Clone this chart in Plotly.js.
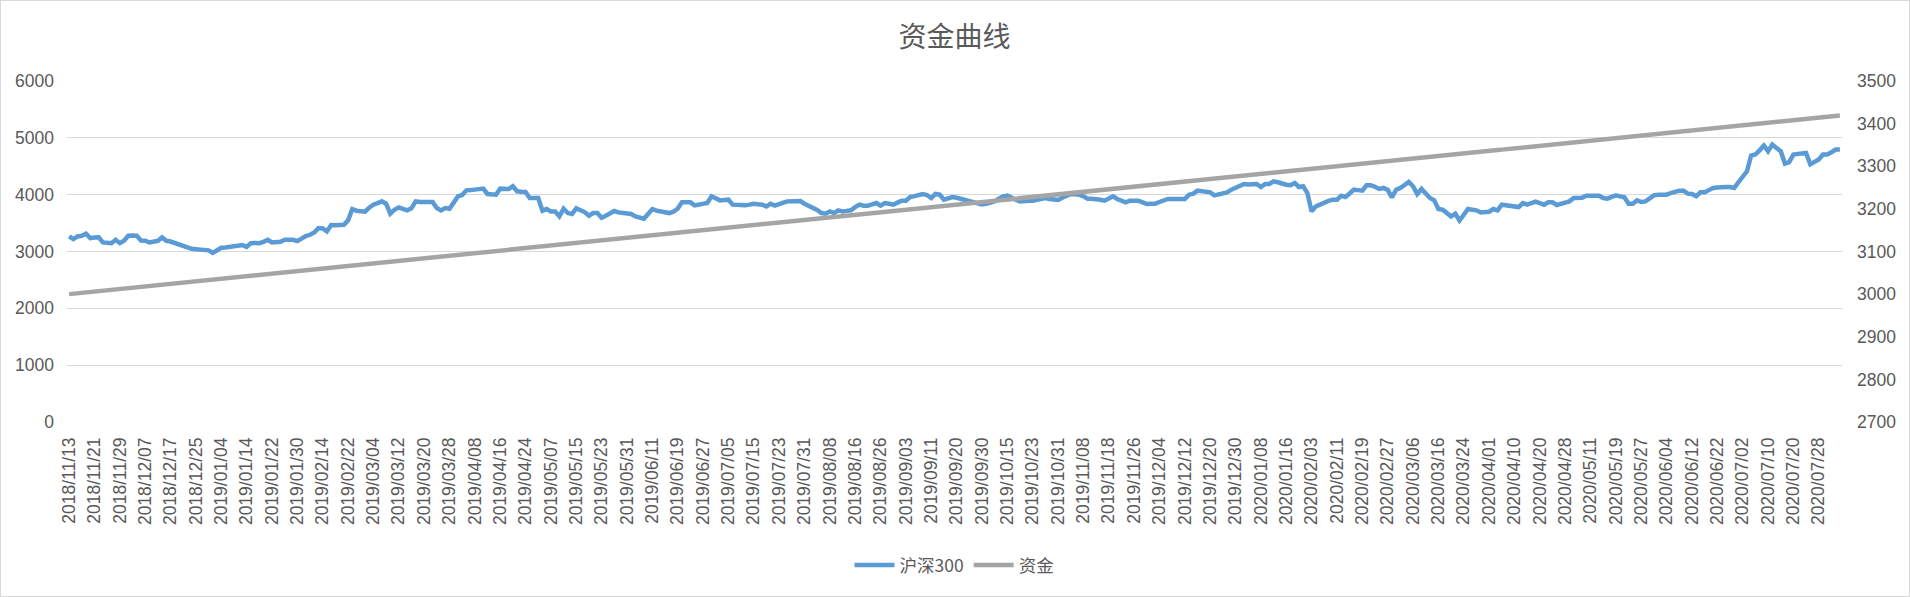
<!DOCTYPE html>
<html>
<head>
<meta charset="utf-8">
<script src="https://cdn.plot.ly/plotly-3.0.1.min.js"></script>
<style>
html,body{margin:0;padding:0;background:#fff;}
#wrap{width:1910px;height:597px;box-sizing:border-box;border:1px solid #d9d9d9;}
#chart{width:1908px;height:595px;}
</style>
</head>
<body>
<div id="wrap"><div id="chart"></div></div>
<script>
// Trading-day categories
const dates = [
"2018/11/13","2018/11/14","2018/11/15","2018/11/16","2018/11/19","2018/11/20","2018/11/21","2018/11/22","2018/11/23","2018/11/26","2018/11/27","2018/11/28","2018/11/29","2018/11/30",
"2018/12/03","2018/12/04","2018/12/05","2018/12/06","2018/12/07","2018/12/10","2018/12/11","2018/12/12","2018/12/13","2018/12/14","2018/12/17","2018/12/18","2018/12/19","2018/12/20","2018/12/21","2018/12/24","2018/12/25","2018/12/26","2018/12/27","2018/12/28",
"2019/01/02","2019/01/03","2019/01/04","2019/01/07","2019/01/08","2019/01/09","2019/01/10","2019/01/11","2019/01/14","2019/01/15","2019/01/16","2019/01/17","2019/01/18","2019/01/21","2019/01/22","2019/01/23","2019/01/24","2019/01/25","2019/01/28","2019/01/29","2019/01/30","2019/01/31",
"2019/02/01","2019/02/11","2019/02/12","2019/02/13","2019/02/14","2019/02/15","2019/02/18","2019/02/19","2019/02/20","2019/02/21","2019/02/22","2019/02/25","2019/02/26","2019/02/27","2019/02/28",
"2019/03/01","2019/03/04","2019/03/05","2019/03/06","2019/03/07","2019/03/08","2019/03/11","2019/03/12","2019/03/13","2019/03/14","2019/03/15","2019/03/18","2019/03/19","2019/03/20","2019/03/21","2019/03/22","2019/03/25","2019/03/26","2019/03/27","2019/03/28","2019/03/29",
"2019/04/01","2019/04/02","2019/04/03","2019/04/04","2019/04/08","2019/04/09","2019/04/10","2019/04/11","2019/04/12","2019/04/15","2019/04/16","2019/04/17","2019/04/18","2019/04/19","2019/04/22","2019/04/23","2019/04/24","2019/04/25","2019/04/26","2019/04/29","2019/04/30",
"2019/05/06","2019/05/07","2019/05/08","2019/05/09","2019/05/10","2019/05/13","2019/05/14","2019/05/15","2019/05/16","2019/05/17","2019/05/20","2019/05/21","2019/05/22","2019/05/23","2019/05/24","2019/05/27","2019/05/28","2019/05/29","2019/05/30","2019/05/31",
"2019/06/03","2019/06/04","2019/06/05","2019/06/06","2019/06/10","2019/06/11","2019/06/12","2019/06/13","2019/06/14","2019/06/17","2019/06/18","2019/06/19","2019/06/20","2019/06/21","2019/06/24","2019/06/25","2019/06/26","2019/06/27","2019/06/28",
"2019/07/01","2019/07/02","2019/07/03","2019/07/04","2019/07/05","2019/07/08","2019/07/09","2019/07/10","2019/07/11","2019/07/12","2019/07/15","2019/07/16","2019/07/17","2019/07/18","2019/07/19","2019/07/22","2019/07/23","2019/07/24","2019/07/25","2019/07/26","2019/07/29","2019/07/30","2019/07/31",
"2019/08/01","2019/08/02","2019/08/05","2019/08/06","2019/08/07","2019/08/08","2019/08/09","2019/08/12","2019/08/13","2019/08/14","2019/08/15","2019/08/16","2019/08/19","2019/08/20","2019/08/21","2019/08/22","2019/08/23","2019/08/26","2019/08/27","2019/08/28","2019/08/29","2019/08/30",
"2019/09/02","2019/09/03","2019/09/04","2019/09/05","2019/09/06","2019/09/09","2019/09/10","2019/09/11","2019/09/12","2019/09/16","2019/09/17","2019/09/18","2019/09/19","2019/09/20","2019/09/23","2019/09/24","2019/09/25","2019/09/26","2019/09/27","2019/09/30",
"2019/10/08","2019/10/09","2019/10/10","2019/10/11","2019/10/14","2019/10/15","2019/10/16","2019/10/17","2019/10/18","2019/10/21","2019/10/22","2019/10/23","2019/10/24","2019/10/25","2019/10/28","2019/10/29","2019/10/30","2019/10/31",
"2019/11/01","2019/11/04","2019/11/05","2019/11/06","2019/11/07","2019/11/08","2019/11/11","2019/11/12","2019/11/13","2019/11/14","2019/11/15","2019/11/18","2019/11/19","2019/11/20","2019/11/21","2019/11/22","2019/11/25","2019/11/26","2019/11/27","2019/11/28","2019/11/29",
"2019/12/02","2019/12/03","2019/12/04","2019/12/05","2019/12/06","2019/12/09","2019/12/10","2019/12/11","2019/12/12","2019/12/13","2019/12/16","2019/12/17","2019/12/18","2019/12/19","2019/12/20","2019/12/23","2019/12/24","2019/12/25","2019/12/26","2019/12/27","2019/12/30","2019/12/31",
"2020/01/02","2020/01/03","2020/01/06","2020/01/07","2020/01/08","2020/01/09","2020/01/10","2020/01/13","2020/01/14","2020/01/15","2020/01/16","2020/01/17","2020/01/20","2020/01/21","2020/01/22","2020/01/23",
"2020/02/03","2020/02/04","2020/02/05","2020/02/06","2020/02/07","2020/02/10","2020/02/11","2020/02/12","2020/02/13","2020/02/14","2020/02/17","2020/02/18","2020/02/19","2020/02/20","2020/02/21","2020/02/24","2020/02/25","2020/02/26","2020/02/27","2020/02/28",
"2020/03/02","2020/03/03","2020/03/04","2020/03/05","2020/03/06","2020/03/09","2020/03/10","2020/03/11","2020/03/12","2020/03/13","2020/03/16","2020/03/17","2020/03/18","2020/03/19","2020/03/20","2020/03/23","2020/03/24","2020/03/25","2020/03/26","2020/03/27","2020/03/30","2020/03/31",
"2020/04/01","2020/04/02","2020/04/03","2020/04/07","2020/04/08","2020/04/09","2020/04/10","2020/04/13","2020/04/14","2020/04/15","2020/04/16","2020/04/17","2020/04/20","2020/04/21","2020/04/22","2020/04/23","2020/04/24","2020/04/27","2020/04/28","2020/04/29","2020/04/30",
"2020/05/06","2020/05/07","2020/05/08","2020/05/11","2020/05/12","2020/05/13","2020/05/14","2020/05/15","2020/05/18","2020/05/19","2020/05/20","2020/05/21","2020/05/22","2020/05/25","2020/05/26","2020/05/27","2020/05/28","2020/05/29",
"2020/06/01","2020/06/02","2020/06/03","2020/06/04","2020/06/05","2020/06/08","2020/06/09","2020/06/10","2020/06/11","2020/06/12","2020/06/15","2020/06/16","2020/06/17","2020/06/18","2020/06/19","2020/06/22","2020/06/23","2020/06/24","2020/06/29","2020/06/30",
"2020/07/01","2020/07/02","2020/07/03","2020/07/06","2020/07/07","2020/07/08","2020/07/09","2020/07/10","2020/07/13","2020/07/14","2020/07/15","2020/07/16","2020/07/17","2020/07/20","2020/07/21","2020/07/22","2020/07/23","2020/07/24","2020/07/27","2020/07/28","2020/07/29","2020/07/30","2020/07/31",
"2020/08/03","2020/08/04"
];

// Tick labels shown on the category axis
const tickLabels = [
"2018/11/13","2018/11/21","2018/11/29","2018/12/07","2018/12/17","2018/12/25","2019/01/04","2019/01/14","2019/01/22","2019/01/30",
"2019/02/14","2019/02/22","2019/03/04","2019/03/12","2019/03/20","2019/03/28","2019/04/08","2019/04/16","2019/04/24","2019/05/07",
"2019/05/15","2019/05/23","2019/05/31","2019/06/11","2019/06/19","2019/06/27","2019/07/05","2019/07/15","2019/07/23","2019/07/31",
"2019/08/08","2019/08/16","2019/08/26","2019/09/03","2019/09/11","2019/09/20","2019/09/30","2019/10/15","2019/10/23","2019/10/31",
"2019/11/08","2019/11/18","2019/11/26","2019/12/04","2019/12/12","2019/12/20","2019/12/30","2020/01/08","2020/01/16","2020/02/03",
"2020/02/11","2020/02/19","2020/02/27","2020/03/06","2020/03/16","2020/03/24","2020/04/01","2020/04/10","2020/04/20","2020/04/28",
"2020/05/11","2020/05/19","2020/05/27","2020/06/04","2020/06/12","2020/06/22","2020/07/02","2020/07/10","2020/07/20","2020/07/28"
];

// 沪深300 (left axis)
const hs300 = [
3265,3218,3265,3276,3312,3235,
3247,3250,3160,3150,3147,3206,
3147,3188,3276,3280,3276,3194,
3190,3159,3165,3188,3247,3188,
3176,3150,3112,3085,3059,3047,
3040,3035,3018,3020,2975,3010,
3065,3070,3076,3100,3095,3112,
3082,3147,3150,3147,3170,3206,
3159,3165,3171,3206,3205,3206,
3182,3235,3270,3294,3335,3412,
3406,3353,3465,3462,3465,3471,
3547,3747,3718,3710,3700,3771,
3824,3850,3882,3841,3665,3735,
3776,3750,3724,3759,3882,3871,
3870,3865,3871,3765,3724,3765,
3753,3860,3971,3994,4076,4080,
4088,4095,4106,4012,4005,4000,
4106,4100,4100,4147,4059,4050,
4047,3941,3945,3941,3718,3747,
3706,3706,3618,3753,3676,3659,
3759,3730,3694,3629,3676,3676,
3594,3629,3670,3712,3688,3675,
3665,3659,3618,3600,3576,3660,
3747,3718,3700,3676,3676,3700,
3753,3865,3866,3865,3812,3830,
3841,3853,3971,3941,3900,3905,
3912,3824,3818,3812,3812,3825,
3841,3830,3824,3794,3841,3806,
3841,3860,3882,3885,3888,3888,
3841,3810,3782,3730,3676,3665,
3706,3676,3724,3706,3715,3724,
3780,3824,3806,3806,3830,3853,
3806,3853,3840,3824,3860,3894,
3894,3959,3975,3990,4012,3994,
3941,4012,4000,3912,3941,3959,
3945,3929,3912,3890,3865,3845,
3829,3840,3853,3882,3930,3971,
3982,3941,3910,3882,3894,3894,
3894,3905,3912,3941,3925,3906,
3906,3945,3982,4012,4005,4000,
3970,3929,3930,3929,3910,3894,
3935,3971,3924,3890,3865,3894,
3894,3894,3865,3835,3838,3841,
3871,3900,3924,3924,3924,3924,
3924,4000,4018,4071,4065,4059,
4041,3988,4010,4029,4041,4088,
4118,4150,4188,4180,4176,4188,
4135,4188,4188,4235,4218,4188,
4175,4165,4206,4135,4147,4029,
3706,3794,3830,3865,3890,3912,
3912,3982,3959,4020,4088,4080,
4071,4165,4165,4140,4100,4118,
4085,3953,4088,4118,4170,4224,
4147,4012,4100,4029,3941,3900,
3747,3735,3665,3618,3665,3547,
3647,3747,3735,3724,3688,3695,
3700,3747,3724,3824,3815,3806,
3790,3782,3853,3824,3850,3876,
3850,3824,3865,3865,3818,3835,
3853,3882,3941,3945,3947,3982,
3982,3982,3982,3941,3929,3960,
3988,3970,3953,3841,3841,3900,
3871,3882,3940,3988,4000,4000,
4000,4029,4050,4071,4071,4018,
4012,3971,4041,4041,4080,4118,
4125,4135,4135,4135,4118,4218,
4320,4412,4688,4706,4780,4865,
4765,4882,4820,4765,4547,4571,
4706,4718,4730,4735,4535,4571,
4618,4706,4706,4747,4794,4794
];

// 资金 (right axis)
const funds = [
3000,3001,3002,3003,3004,3005,3006,3007,3008,3009,3010,3011,3012,3013,3014,3015,3016,3017,3018,3019,
3020,3021,3022,3023,3024,3025,3026,3027,3028,3029,3030,3031,3032,3033,3034,3035,3036,3037,3038,3039,
3040,3041,3042,3043,3044,3045,3046,3047,3048,3049,3050,3051,3052,3053,3054,3055,3056,3057,3058,3059,
3060,3061,3062,3063,3064,3065,3066,3067,3068,3069,3070,3071,3072,3073,3074,3075,3076,3077,3078,3079,
3080,3081,3082,3083,3084,3085,3086,3087,3088,3089,3090,3091,3092,3093,3094,3095,3096,3097,3098,3099,
3100,3101,3102,3103,3104,3105,3106,3107,3108,3109,3110,3111,3112,3113,3114,3115,3116,3117,3118,3119,
3120,3121,3122,3123,3124,3125,3126,3127,3128,3129,3130,3131,3132,3133,3134,3135,3136,3137,3138,3139,
3140,3141,3142,3143,3144,3145,3146,3147,3148,3149,3150,3151,3152,3153,3154,3155,3156,3157,3158,3159,
3160,3161,3162,3163,3164,3165,3166,3167,3168,3169,3170,3171,3172,3173,3174,3175,3176,3177,3178,3179,
3180,3181,3182,3183,3184,3185,3186,3187,3188,3189,3190,3191,3192,3193,3194,3195,3196,3197,3198,3199,
3200,3201,3202,3203,3204,3205,3206,3207,3208,3209,3210,3211,3212,3213,3214,3215,3216,3217,3218,3219,
3220,3221,3222,3223,3224,3225,3226,3227,3228,3229,3230,3231,3232,3233,3234,3235,3236,3237,3238,3239,
3240,3241,3242,3243,3244,3245,3246,3247,3248,3249,3250,3251,3252,3253,3254,3255,3256,3257,3258,3259,
3260,3261,3262,3263,3264,3265,3266,3267,3268,3269,3270,3271,3272,3273,3274,3275,3276,3277,3278,3279,
3280,3281,3282,3283,3284,3285,3286,3287,3288,3289,3290,3291,3292,3293,3294,3295,3296,3297,3298,3299,
3300,3301,3302,3303,3304,3305,3306,3307,3308,3309,3310,3311,3312,3313,3314,3315,3316,3317,3318,3319,
3320,3321,3322,3323,3324,3325,3326,3327,3328,3329,3330,3331,3332,3333,3334,3335,3336,3337,3338,3339,
3340,3341,3342,3343,3344,3345,3346,3347,3348,3349,3350,3351,3352,3353,3354,3355,3356,3357,3358,3359,
3360,3361,3362,3363,3364,3365,3366,3367,3368,3369,3370,3371,3372,3373,3374,3375,3376,3377,3378,3379,
3380,3381,3382,3383,3384,3385,3386,3387,3388,3389,3390,3391,3392,3393,3394,3395,3396,3397,3398,3399,
3400,3401,3402,3403,3404,3405,3406,3407,3408,3409,3410,3411,3412,3413,3414,3415,3416,3417,3418,3419
];

const seriesNames = ["沪深300", "资金"];
const chartTitle = "资金曲线";

const fontFam = '"Liberation Sans", "Noto Sans CJK SC", Arial, sans-serif';
const txtColor = '#595959';

const traces = [
  {
    x: dates, y: hs300, name: seriesNames[0], type: 'scatter', mode: 'lines',
    line: {color: '#5B9BD5', width: 4.5, shape: 'linear'},
    yaxis: 'y'
  },
  {
    x: dates, y: funds, name: seriesNames[1], type: 'scatter', mode: 'lines',
    line: {color: '#A5A5A5', width: 4.5, shape: 'linear'},
    yaxis: 'y2'
  }
];

const layout = {
  width: 1908, height: 595,
  margin: {l: 66, r: 67, t: 80, b: 174, pad: 0},
  paper_bgcolor: '#ffffff', plot_bgcolor: '#ffffff',
  font: {family: fontFam, size: 17.5, color: txtColor},
  title: {
    text: chartTitle, x: 0.5, xref: 'paper', xanchor: 'center',
    y: 0.939, yref: 'container', yanchor: 'middle',
    font: {family: '"Noto Sans CJK SC", sans-serif', size: 28, color: txtColor}
  },
  showlegend: true,
  legend: {
    orientation: 'h', x: 0.5, xanchor: 'center', y: -0.42, yanchor: 'middle',
    font: {family: '"Noto Sans CJK SC", "Liberation Sans", sans-serif', size: 17.5, color: txtColor},
    traceorder: 'normal', itemwidth: 40
  },
  xaxis: {
    type: 'category', categoryorder: 'array', categoryarray: dates,
    range: [-0.5, dates.length - 0.5],
    tickmode: 'array', tickvals: tickLabels, ticktext: tickLabels,
    tickangle: -90, ticks: '', ticklabelstandoff: 11,
    showgrid: false, showline: false, zeroline: false,
    tickfont: {family: fontFam, size: 17.5, color: txtColor},
    fixedrange: true
  },
  yaxis: {
    range: [0, 6000], tickmode: 'linear', tick0: 0, dtick: 1000,
    showgrid: true, gridcolor: '#d9d9d9', gridwidth: 1.3,
    zeroline: false, showline: false, ticks: '', ticklabelstandoff: 12,
    tickfont: {family: fontFam, size: 17.5, color: txtColor},
    fixedrange: true
  },
  yaxis2: {
    range: [2700, 3500], tickmode: 'linear', tick0: 2700, dtick: 100,
    overlaying: 'y', side: 'right', showgrid: false, zeroline: false, showline: false,
    ticks: '', ticklabelstandoff: 14,
    tickfont: {family: fontFam, size: 17.5, color: txtColor},
    fixedrange: true
  }
};

Plotly.newPlot('chart', traces, layout, {displayModeBar: false, staticPlot: true});
</script>
</body>
</html>
